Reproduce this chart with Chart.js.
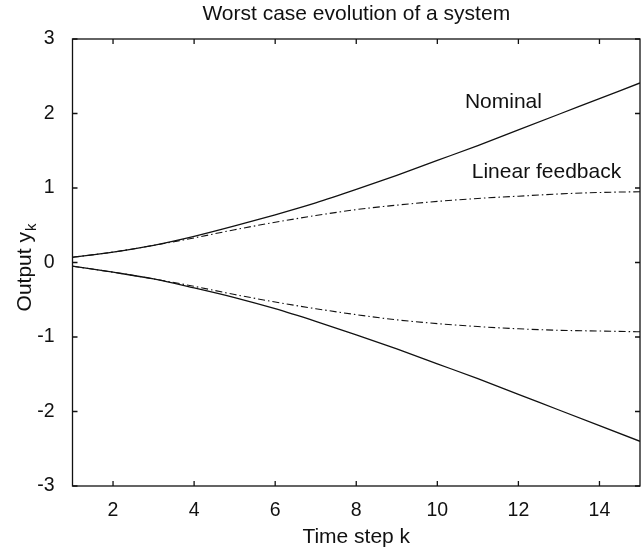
<!DOCTYPE html>
<html>
<head>
<meta charset="utf-8">
<script src="https://cdn.jsdelivr.net/npm/chart.js@4.4.1/dist/chart.umd.min.js"></script>
<style>
  html, body { margin: 0; padding: 0; background: #ffffff; }
  #wrap { width: 644px; height: 551px; }
</style>
</head>
<body>
<div id="wrap"><canvas id="c" width="644" height="551"></canvas></div>
<script>
// ---- data ----
const steps = [1, 2, 3, 4, 5, 6, 7, 8, 9, 10, 11, 12, 13, 14, 15];
const nominalUpper = [0.07, 0.14, 0.23, 0.35, 0.49, 0.64, 0.80, 0.98, 1.17, 1.37, 1.57, 1.78, 1.99, 2.20, 2.41];
const nominalLower = [-0.05, -0.13, -0.22, -0.34, -0.47, -0.62, -0.79, -0.97, -1.16, -1.36, -1.56, -1.77, -1.98, -2.19, -2.40];
const linearUpper = [0.07, 0.14, 0.23, 0.33, 0.44, 0.54, 0.63, 0.71, 0.77, 0.82, 0.86, 0.89, 0.92, 0.94, 0.95];
const linearLower = [-0.05, -0.13, -0.22, -0.32, -0.43, -0.53, -0.62, -0.70, -0.77, -0.82, -0.86, -0.89, -0.91, -0.92, -0.93];
const xTickValues = [2, 4, 6, 8, 10, 12, 14];
const yTickValues = [-3, -2, -1, 0, 1, 2, 3];
const titleText = 'Worst case evolution of a system';
const xLabel = 'Time step k';
const yLabelMain = 'Output y';
const yLabelSub = 'k';
const annotations = [
  { text: 'Nominal', x: 10.68, y: 2.07 },
  { text: 'Linear feedback', x: 10.85, y: 1.13 }
];

const FONT = "'Liberation Sans', Arial, Helvetica, sans-serif";
const INK = '#111111';

function pts(ys) { return steps.map((k, i) => ({ x: k, y: ys[i] })); }

const solid = { borderColor: INK, borderWidth: 1.3, pointRadius: 0, cubicInterpolationMode: 'monotone', fill: false };
const dashdot = { borderColor: INK, borderWidth: 1.1, pointRadius: 0, cubicInterpolationMode: 'monotone', fill: false, borderDash: [7, 3, 1.5, 3] };

const boxPlugin = {
  id: 'matlabBox',
  afterDatasetsDraw(chart) {
    const { ctx, chartArea: a, scales: { x, y } } = chart;
    ctx.save();
    ctx.strokeStyle = INK;
    ctx.lineWidth = 1.3;
    ctx.strokeRect(a.left, a.top, a.right - a.left, a.bottom - a.top);
    const tl = 5;
    ctx.beginPath();
    xTickValues.forEach(v => {
      const px = x.getPixelForValue(v);
      ctx.moveTo(px, a.bottom); ctx.lineTo(px, a.bottom - tl);
      ctx.moveTo(px, a.top); ctx.lineTo(px, a.top + tl);
    });
    yTickValues.forEach(v => {
      const py = y.getPixelForValue(v);
      ctx.moveTo(a.left, py); ctx.lineTo(a.left + tl, py);
      ctx.moveTo(a.right, py); ctx.lineTo(a.right - tl, py);
    });
    ctx.stroke();

    // annotations
    ctx.fillStyle = INK;
    ctx.font = '21px ' + FONT;
    ctx.textAlign = 'left';
    ctx.textBaseline = 'alphabetic';
    annotations.forEach(an => {
      ctx.fillText(an.text, x.getPixelForValue(an.x), y.getPixelForValue(an.y));
    });

    // y axis label with subscript
    ctx.font = '21px ' + FONT;
    const wMain = ctx.measureText(yLabelMain).width;
    ctx.font = '15px ' + FONT;
    const wSub = ctx.measureText(yLabelSub).width;
    const total = wMain + 1 + wSub;
    const cy = (a.top + a.bottom) / 2 + 5;
    ctx.translate(31, cy + total / 2);
    ctx.rotate(-Math.PI / 2);
    ctx.font = '21px ' + FONT;
    ctx.fillText(yLabelMain, 0, 0);
    ctx.font = '15px ' + FONT;
    ctx.fillText(yLabelSub, wMain + 1, 5);
    ctx.restore();
  }
};

new Chart(document.getElementById('c'), {
  type: 'line',
  data: {
    datasets: [
      Object.assign({ label: 'Nominal upper', data: pts(nominalUpper) }, solid),
      Object.assign({ label: 'Nominal lower', data: pts(nominalLower) }, solid),
      Object.assign({ label: 'Linear feedback upper', data: pts(linearUpper) }, dashdot),
      Object.assign({ label: 'Linear feedback lower', data: pts(linearLower) }, dashdot)
    ]
  },
  options: {
    responsive: false,
    animation: false,
    devicePixelRatio: 1,
    layout: { padding: { left: 0, right: 4, top: 0, bottom: 0 } },
    plugins: {
      legend: { display: false },
      tooltip: { enabled: false },
      title: {
        display: true,
        text: titleText,
        fullSize: false,
        color: INK,
        font: { family: FONT, size: 21, weight: 'normal' },
        padding: { top: 2, bottom: 11.8 }
      }
    },
    scales: {
      x: {
        type: 'linear',
        min: 1,
        max: 15,
        afterBuildTicks(scale) { scale.ticks = xTickValues.map(v => ({ value: v })); },
        afterFit(scale) { scale.height = 65; },
        grid: { display: false },
        border: { display: false },
        ticks: { color: INK, font: { family: FONT, size: 19.5 }, padding: 4.5, maxRotation: 0, autoSkip: false },
        title: { display: true, text: xLabel, color: INK, font: { family: FONT, size: 21 }, padding: { top: 0, bottom: 1.4 } }
      },
      y: {
        type: 'linear',
        min: -3,
        max: 3,
        afterBuildTicks(scale) { scale.ticks = yTickValues.map(v => ({ value: v })); },
        afterFit(scale) { scale.width = 72.5; },
        grid: { display: false },
        border: { display: false },
        ticks: { color: INK, font: { family: FONT, size: 19.5 }, padding: 10, autoSkip: false }
      }
    }
  },
  plugins: [boxPlugin]
});
</script>
</body>
</html>
